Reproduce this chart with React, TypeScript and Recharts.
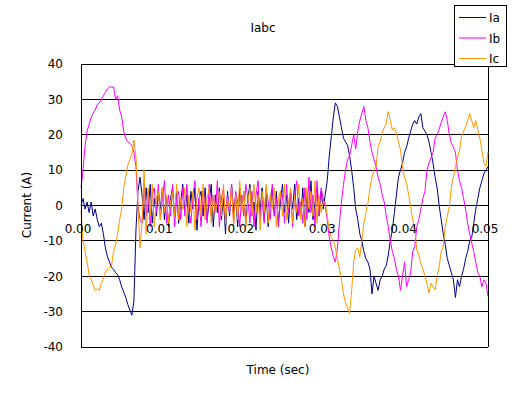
import { LineChart, Line, XAxis, YAxis, CartesianGrid, ReferenceLine } from "recharts"

// sample step of the recorded currents (sec)
const DT = 0.00025

const seriesNames = ["Ia", "Ib", "Ic"]
const seriesColors = ["#000080", "#FF00FF", "#FF9900"]

const xTicks = [0, 0.01, 0.02, 0.03, 0.04, 0.05]
const yTicks = [-40, -30, -20, -10, 0, 10, 20, 30, 40]

// Ia (A)
const ia = [
  0, 2, -1, 1, -2, 1, -3, -1, -4, -6,
  -5, -8, -12, -14.5, -16, -17.5, -18, -19, -19.5, -21,
  -23, -24.5, -26, -28, -29.5, -31, -27, -7, 4, 8,
  3, -4, 5, -2, 6, -5, 2, -3, 4, -1,
  5, -4, 3, -6, 2, 5, -3, 4, -5, 1,
  6, -2, 3, -5, 4, -1, 5, -7, 2, 4,
  -3, 5, -4, 1, 6, -6, 3, -2, 5, -4,
  2, -8, 4, -3, 6, -2, 3, -6, 5, -1,
  4, -5, 2, 6, -3, 1, -7, 4, -2, 5,
  -4, 3, -6, 2, 5, -3, 4, -5, 1, 6,
  -2, 3, -5, 4, -1, 6, -4, 2, -3, 5,
  -6, 3, -2, 7, -4, 1, 5, -3, 4, -1,
  3, 7, 14, 19.5, 25, 29, 28, 25, 22, 19,
  18, 17, 14, 10, 5, -1, -4, -8, -10, -13,
  -15, -16, -18, -25, -20, -22, -24, -21, -20, -18,
  -17, -14, -10, -7, -2, 3, 8, 10, 12, 15,
  16.5, 19, 21, 23, 24, 23, 25, 26, 22, 21,
  20, 18, 15, 12, 8, 5, 0, -4, -8, -11,
  -15, -17, -19, -21, -26, -21, -23, -20, -18, -15,
  -13, -10, -9, -5, -1, 2, 5, 7, 9, 10,
  11,
]

// Ib (A)
const ib = [
  5, 10, 17, 21, 23, 25, 26, 27, 28.5, 29,
  30, 31, 32, 33, 33.5, 33.5, 33.5, 30, 31, 27,
  25, 21, 19, 18, 17.5, 17, 15, 11, 0, -4,
  -5, 6, -3, 4, -6, 3, 5, -2, 6, -4,
  2, 7, -5, 3, -3, 6, -6, 2, 4, -4,
  5, -3, 6, -1, -5, 3, 7, -4, 2, -6,
  4, 1, -5, 6, -3, 3, -2, 7, -6, 2,
  5, -4, 3, -2, 6, -5, 4, 1, -6, 3,
  -3, 6, 2, -5, 4, -6, 3, 7, -4, 2,
  -5, 5, 1, -4, 6, -3, 2, -6, 4, 3,
  -5, 6, -2, 4, -6, 3, 7, -3, 1, -5,
  5, -4, 8, -2, 3, -6, 7, -3, 5, 2,
  0, -4, -9, -12, -14.5, -16, -12, -5, 1, 6,
  10, 13, 14, 17, 20, 16, 21, 24, 26, 28,
  24, 22, 18, 15, 13, 11, 8, 6, 3, 1,
  -3, -6, -10, -13, -15, -18, -20, -24, -20, -16,
  -23, -21, -19, -13, -11.6, -6, -4, -1, 2, 4,
  10, 12, 13.5, 15, 19, 20, 21.5, 23.5, 25, 26.5,
  24, 20, 17.6, 16.5, 15, 10, 7, 5, 2, -1,
  -5, -8, -10.6, -13, -16, -19, -20, -23, -21, -22,
  -25.7,
]

// Ic (A)
const ic = [
  -1.5, -10, -13, -16, -19.5, -21, -22.5, -24, -23.5, -24,
  -22, -20.5, -19, -18, -17.5, -17, -13, -11, -8, -4,
  -1, 5, 8, 11.4, 13, 14.5, 18.5, 14, 0, -12,
  -5, 10, -8, 5, -3, 6, -6, 2, 4, -4,
  5, -2, 3, -5, 1, 4, -3, 6, -4, 2,
  -1, 5, -6, 3, -2, 4, -7, 2, 5, -3,
  6, -4, 2, 5, -5, 3, -2, 1, 4, -3,
  6, -5, 2, -1, 5, -6, 3, -4, 7, -2,
  4, -6, 1, 5, -3, 6, -2, 3, -7, 4,
  -2, 6, -5, 3, -1, 5, -6, 2, 4, -3,
  6, -4, 1, 5, -5, 3, -2, 6, -4, 2,
  -6, 5, -1, 4, -3, 7, -5, 3, -2, 1,
  1, -3, -7, -9, -10, -12, -15, -18, -21, -25,
  -27.5, -29, -30.5, -24, -16, -12.5, -12, -14.5, -10, -5,
  -2, 0.7, 5, 8, 10, 11, 16.6, 18, 20.4, 22,
  23.3, 26.5, 24, 21.3, 22, 20.4, 18, 15.7, 11, 8,
  6.3, 3, -0.3, -4, -6, -12.6, -14, -16.3, -18, -20,
  -22, -24.7, -22, -23, -23.9, -20, -17.3, -13, -11.6, -6,
  -3, -0.3, 5.3, 8, 11, 13.5, 15.7, 19.4, 21, 22.3,
  24, 26, 24, 22, 24, 21.3, 19, 15.7, 12, 11,
  15.2,
]

const data = ia.map((v, i) => ({ t: i * DT, Ia: v, Ib: ib[i], Ic: ic[i] }))

const FONT = "'DejaVu Sans', sans-serif"
const W = 513
const H = 398
const MARGIN = { top: 64, right: 25, bottom: 31, left: 0 }
const X_AXIS_H = 20
const PLOT_H = H - MARGIN.top - MARGIN.bottom - X_AXIS_H

// x labels sit just under the zero line, like the spreadsheet chart
function TimeTick(props: any) {
  const { x, y, payload } = props
  return (
    <text x={x - 3} y={y - PLOT_H / 2 + 27} textAnchor="middle" fontSize={12} fontFamily={FONT} fill="#000">
      {Number(payload.value).toFixed(2)}
    </text>
  )
}

function LegendBox() {
  return (
    <div
      style={{
        position: "absolute",
        left: 454,
        top: 5,
        width: 53,
        height: 62,
        boxSizing: "border-box",
        border: "1px solid #000",
        background: "#fff",
      }}
    >
      <svg width={51} height={60} style={{ display: "block" }}>
        {seriesNames.map((name, i) => (
          <g key={name}>
            <line x1={4} x2={31} y1={11.5 + i * 20.5} y2={11.5 + i * 20.5} stroke={seriesColors[i]} strokeWidth={1} />
            <text x={34} y={16 + i * 20.5} fontSize={12} fontFamily={FONT} fill="#000">
              {name}
            </text>
          </g>
        ))}
      </svg>
    </div>
  )
}

export default function App() {
  return (
    <div style={{ position: "absolute", left: 0, top: 0, width: W, height: H, background: "#fff" }}>
      <style>{".recharts-cartesian-grid line, .recharts-reference-line line, .recharts-cartesian-axis-line { shape-rendering: crispEdges }"}</style>
      <LineChart width={W} height={H} data={data} margin={MARGIN}>
        <CartesianGrid vertical={false} stroke="#000" horizontalValues={yTicks} />
        <XAxis
          dataKey="t"
          type="number"
          domain={[0, 0.05]}
          ticks={xTicks}
          axisLine={false}
          tickLine={false}
          tickSize={0}
          tickMargin={0}
          height={X_AXIS_H}
          tick={TimeTick}
          interval={0}
        />
        <YAxis
          type="number"
          domain={[-40, 40]}
          ticks={yTicks}
          width={81}
          axisLine={{ stroke: "#000" }}
          tickLine={false}
          tickSize={0}
          tickMargin={18}
          interval={0}
          tick={{ fill: "#000", fontSize: 12, fontFamily: FONT }}
        />
        <ReferenceLine x={0.05} stroke="#000" />
        {seriesNames.map((name, i) => (
          <Line
            key={name}
            dataKey={name}
            type="linear"
            stroke={seriesColors[i]}
            strokeWidth={1}
            dot={false}
            isAnimationActive={false}
          />
        ))}
        <text x={263} y={32} textAnchor="middle" fontSize={12} fontFamily={FONT} fill="#000">
          Iabc
        </text>
        <text transform="translate(31,205) rotate(-90)" textAnchor="middle" fontSize={12} fontFamily={FONT} fill="#000">
          Current (A)
        </text>
        <text x={278} y={374} textAnchor="middle" fontSize={12} fontFamily={FONT} fill="#000">
          Time (sec)
        </text>
      </LineChart>
      <LegendBox />
    </div>
  )
}
